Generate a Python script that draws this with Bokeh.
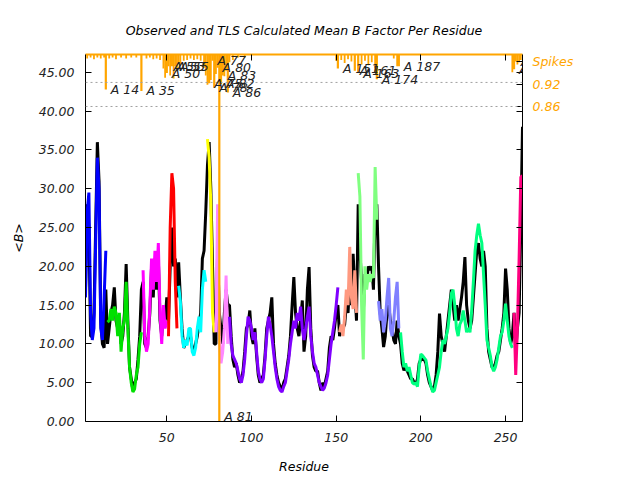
from bokeh.plotting import figure
from bokeh.models import (Range1d, LinearAxis, FixedTicker, PrintfTickFormatter,
                          LabelSet, ColumnDataSource, Span)
from bokeh.core.properties import value
from bokeh.embed import file_html
from bokeh.resources import INLINE

# ---------------- data ----------------
residues = list(range(2, 261))

tls_b = (
    [16, 27, 29.5, 14, 10.5, 12, 23, 34, 30, 12, 10.5, 16, 22]
    + [12.8, 13, 14.5, 13, 14.8, 14, 11, 14, 9, 12, 13, 18, 12, 7, 5, 3.8, 4.2, 6, 7, 10, 11.5]
    + [19.5, 11, 9, 10, 15, 21, 17, 22, 18, 23, 14, 10, 15, 12, 13]
    + [11, 25, 32, 30, 18, 12]
    + [17.5, 15.5, 11, 9.5, 10.5, 9.8, 12, 12, 9, 8.5, 9.5, 12, 13.5, 11.5, 17, 19.5, 18]
    + [36.4, 34, 28, 14, 11.5]
    + [11.5, 28, 11, 7.5, 9, 12, 18.8, 10]
    + [13.5, 10, 8.5, 8, 7.5, 6.5, 5.5, 5, 6, 8,
       11, 13.5, 13, 12, 10.5, 11.5, 9, 6.5, 5.5, 5,
       5.5, 8, 11, 13.5, 12.5, 11, 9, 7, 5.5, 4.5,
       4, 3.8, 4.5, 5, 6.5, 8, 10, 11.5, 13, 12,
       14, 13, 14.8, 12, 10.5, 12, 13.5, 14.8, 11, 9,
       7.5, 7, 6, 5, 4.5, 4, 4.3, 5, 6, 8,
       10, 11.5, 13, 15, 17.3]
    + [11.5, 12.5, 11, 13.5, 17, 15, 22.5, 16, 14.5, 19.5, 14]
    + [32, 29, 15, 8, 20, 17, 19, 18, 19, 18.5, 32.8, 26]
    + [15.5, 13, 14.5, 11.5, 13, 16, 18.5, 12, 11, 13, 16, 18, 12]
    + [11.5, 9, 7, 7.5, 6.5, 7, 6, 5, 4.8, 5,
       4.5, 7, 8.7, 8.5, 8.2, 7.9, 6.5, 5.5, 4.5, 3.8,
       4, 5, 6, 7, 9, 10.5, 10, 11, 12, 14,
       16.5, 17, 15, 12, 11, 12.5, 13, 14.3, 13, 11.5,
       12, 11.5, 14.3, 18, 22, 24, 25.5, 24, 23, 19,
       15, 10.5, 9.5, 8.5, 7, 6.5, 7, 8, 9.5, 11,
       11.5, 13, 15.2, 13, 11, 10, 9.5]
    + [14, 6, 12, 21, 31.5, 31.7]
)

obs_b = (
    [17, 28, 25, 11, 11, 14, 25, 36, 31, 13, 10, 9.5, 17]
    + [10, 12, 14, 15, 17.3, 13, 12, 13, 10, 11, 14, 20.3, 13, 7, 5.5, 4, 5, 5.5, 8, 11, 17]
    + [18, 10, 9.5, 11, 14, 20, 16, 21, 17, 21, 13, 11, 14, 13, 16]
    + [13, 20, 25, 20, 21, 16]
    + [20.5, 16, 12, 9.5, 10, 10.5, 11, 11, 9.5, 9, 10, 11, 12.5, 14, 21, 22, 27]
    + [33, 36, 30, 20, 10]
    + [10, 22, 14, 12, 10, 14, 17, 15]
    + [15, 11, 8, 7, 7.5, 6, 5, 5.5, 6.5, 9,
       12, 12.5, 14.3, 11, 10, 12, 8.5, 6, 5, 5.5,
       6, 8.5, 12, 13, 14, 16, 10, 7.5, 6, 5,
       4.5, 4, 5, 5.5, 7, 8.5, 11, 15, 18.6, 14,
       12, 11, 13, 15.6, 9, 11, 17, 19.9, 12, 8.5,
       7, 6.5, 6.5, 5, 4, 5, 4.5, 5.5, 6.5, 9.5,
       11, 10.5, 12, 14, 15]
    + [11, 12, 12, 12.5, 15, 14, 18, 15, 21.6, 17, 13]
    + [28, 22, 18, 14, 19, 18, 20, 19.5, 20, 17, 27, 28]
    + [20, 14, 12, 9.6, 11, 14, 15, 13, 12, 10.5, 10, 13, 11]
    + [10, 7.5, 6.6, 7, 6.5, 6, 5.5, 5.5, 5, 4.8,
       5.5, 7.5, 8, 8, 8, 7.5, 6, 5, 4.5, 4,
       4.5, 6, 9, 13.9, 11, 10, 9, 11, 13, 15,
       17, 15, 13, 15, 13, 14.5, 16, 18, 21.2, 15,
       13, 12, 13, 16, 19, 22, 23, 21, 20, 22,
       20, 12, 9, 8, 7, 7, 7.5, 8.5, 9, 10.5,
       12, 14, 19.7, 17, 12, 10, 11]
    + [14, 9, 12, 14, 25, 38]
)

# TLS groups (first and last residue)
group_first = [2, 15, 36, 51, 57, 74, 79, 87, 152, 163, 175, 188, 255]
group_last = [14, 35, 50, 56, 73, 78, 86, 151, 162, 174, 187, 254, 260]
group_colors = ["#0000FF", "#00E000", "#FF00FF", "#FF0000", "#00FFFF", "#FFFF00",
                "#FF88FF", "#8000FF", "#FF9980", "#80FF80", "#8080FF", "#00FF80", "#FF0080"]

# labelled spikes (residue, lower end in B units)
spike_res = [14, 35, 50, 51, 53, 55, 75, 77, 78, 80, 81, 82, 83, 86,
             151, 161, 163, 174, 187, 255, 256]
spike_low = [42.8, 42.6, 44.9, 45.8, 45.8, 45.8, 43.6, 46.5, 43.0, 45.6, 0.0, 43.5, 44.6, 42.4,
             45.5, 45.2, 44.9, 44.1, 45.8, 45.4, 46.4]
spike_text = ["A 14", "A 35", "A 50", "A 51", "A 53", "A 55", "A 75", "A 77", "A 78", "A 80",
              "A 81", "A 82", "A 83", "A 86", "A 151", "A 161", "A 163", "A 174", "A 187",
              "A 255", "A 256"]

# small unlabelled spikes
minor_res = [3, 5, 7, 9, 11, 13, 16, 18, 20, 23, 26, 29, 32, 38, 40, 42, 44, 46, 48, 49,
             52, 54, 56, 57, 58, 60, 62, 64, 66, 68, 70, 72, 73, 74, 76, 79, 84, 85, 87, 89,
             92, 96, 150, 153, 155, 157, 159, 165, 167, 169, 171, 173, 184, 186, 254, 257, 258, 259]
minor_low = [46.8, 46.9, 46.7, 46.9, 46.8, 46.9, 46.8, 46.9, 46.7, 46.9, 46.8, 46.9, 46.9, 46.8,
             46.9, 46.7, 46.8, 46.6, 45.5, 44.3, 44.6, 44.2, 45.3, 46.2, 45.9, 46.5, 46.6, 46.8,
             46.6, 46.7, 46.5, 45.6, 44.6, 43.4, 44.0, 44.8, 44.5, 45.2, 46.3, 46.6, 46.9, 46.9,
             46.5, 46.6, 46.2, 46.7, 46.4, 46.0, 46.5, 45.9, 46.3, 44.9, 46.8, 45.8, 45.0,
             46.0, 46.3, 46.6]

threshold_vals = [43.7, 40.6]
right_label_pos = [46.4, 43.45, 40.6]
right_label_text = ["Spikes", "0.92", "0.86"]

x_ticks = [50, 100, 150, 200, 250]
y_ticks = [0, 5, 10, 15, 20, 25, 30, 35, 40, 45]

X_MIN, X_MAX = 2, 260
Y_MIN, Y_MAX = 0, 47.3

FONT = "DejaVu Sans"
FS = "12.5px"
ORANGE = "#FFA500"
TXT = "#222222"

# ---------------- figure ----------------
p = figure(width=640, height=480, output_backend="svg", toolbar_location=None,
           x_range=Range1d(X_MIN, X_MAX), y_range=Range1d(Y_MIN, Y_MAX),
           min_border_left=85, min_border_right=118, min_border_top=54, min_border_bottom=59)
p.outline_line_color = None
p.xgrid.visible = False
p.ygrid.visible = False
p.background_fill_color = "white"
p.border_fill_color = "white"

p.title.text = "Observed and TLS Calculated Mean B Factor Per Residue"
p.title.align = "center"
p.title.text_font = FONT
p.title.text_font_style = "italic"
p.title.text_font_size = FS
p.title.text_color = "black"
p.title.standoff = 33


def style_axis(ax, ticks, line_color="black", line_width=1):
    ax.ticker = FixedTicker(ticks=ticks)
    ax.major_tick_in = 6
    ax.major_tick_out = 0
    ax.minor_tick_line_color = None
    ax.axis_line_color = line_color
    ax.axis_line_width = line_width
    ax.major_tick_line_color = "black"
    ax.major_label_text_font = FONT
    ax.major_label_text_font_style = "italic"
    ax.major_label_text_font_size = FS
    ax.major_label_text_color = TXT
    ax.major_label_standoff = 10
    ax.axis_label_text_font = FONT
    ax.axis_label_text_font_style = "italic"
    ax.axis_label_text_font_size = FS
    ax.axis_label_text_color = "black"


xa = p.xaxis[0]
style_axis(xa, x_ticks)
xa.axis_label = "Residue"
xa.axis_label_standoff = 14
xa.major_label_standoff = 11

ya = p.yaxis[0]
style_axis(ya, y_ticks)
ya.formatter = PrintfTickFormatter(format="%.2f")
ya.major_label_standoff = 11
ya.axis_label = "<B>"
ya.axis_label_standoff = 10

# right axis: mirrored ticks plus the orange spike / threshold captions
right_ax = LinearAxis()
style_axis(right_ax, y_ticks + right_label_pos)
right_ax.major_label_overrides = dict(
    [(t, "") for t in y_ticks] + list(zip(right_label_pos, right_label_text)))
right_ax.major_label_text_color = ORANGE
right_ax.major_label_standoff = 10
p.add_layout(right_ax, "right")

top_ax = LinearAxis()
style_axis(top_ax, x_ticks, line_color=ORANGE, line_width=2)
top_ax.major_label_overrides = {t: "" for t in x_ticks}
top_ax.major_label_standoff = 0
p.add_layout(top_ax, "above")

# threshold lines
for v in threshold_vals:
    p.add_layout(Span(location=v, dimension="width", line_color="#A0A0A0",
                      line_dash="2 3", line_width=1))

# observed B (black)
p.line(residues, obs_b, line_color="black", line_width=3)

# TLS calculated B, coloured by group
for a, b, c in zip(group_first, group_last, group_colors):
    i0, i1 = a - residues[0], b - residues[0] + 1
    p.line(residues[i0:i1], tls_b[i0:i1], line_color=c, line_width=3)

# spikes hanging from the top
p.segment(x0=minor_res, y0=[Y_MAX] * len(minor_res), x1=minor_res, y1=minor_low,
          line_color=ORANGE, line_width=1.8)
p.segment(x0=spike_res, y0=[Y_MAX] * len(spike_res), x1=spike_res, y1=spike_low,
          line_color=ORANGE, line_width=2.2)

# captions at the lower end of each labelled spike (the one at the axis is lifted to stay visible)
up_idx = [i for i, v in enumerate(spike_low) if v > 0]
low_idx = [i for i, v in enumerate(spike_low) if v <= 0]
for idx, yoff in ((up_idx, 0), (low_idx, 5)):
    src = ColumnDataSource(dict(x=[spike_res[i] for i in idx], y=[spike_low[i] for i in idx],
                                t=[spike_text[i] for i in idx]))
    p.add_layout(LabelSet(x="x", y="y", text="t", source=src, x_offset=5, y_offset=yoff,
                          text_baseline="middle", text_font=value(FONT),
                          text_font_style=value("italic"), text_font_size=value(FS),
                          text_color=TXT))

open("out.html", "w").write(file_html(p, INLINE))
